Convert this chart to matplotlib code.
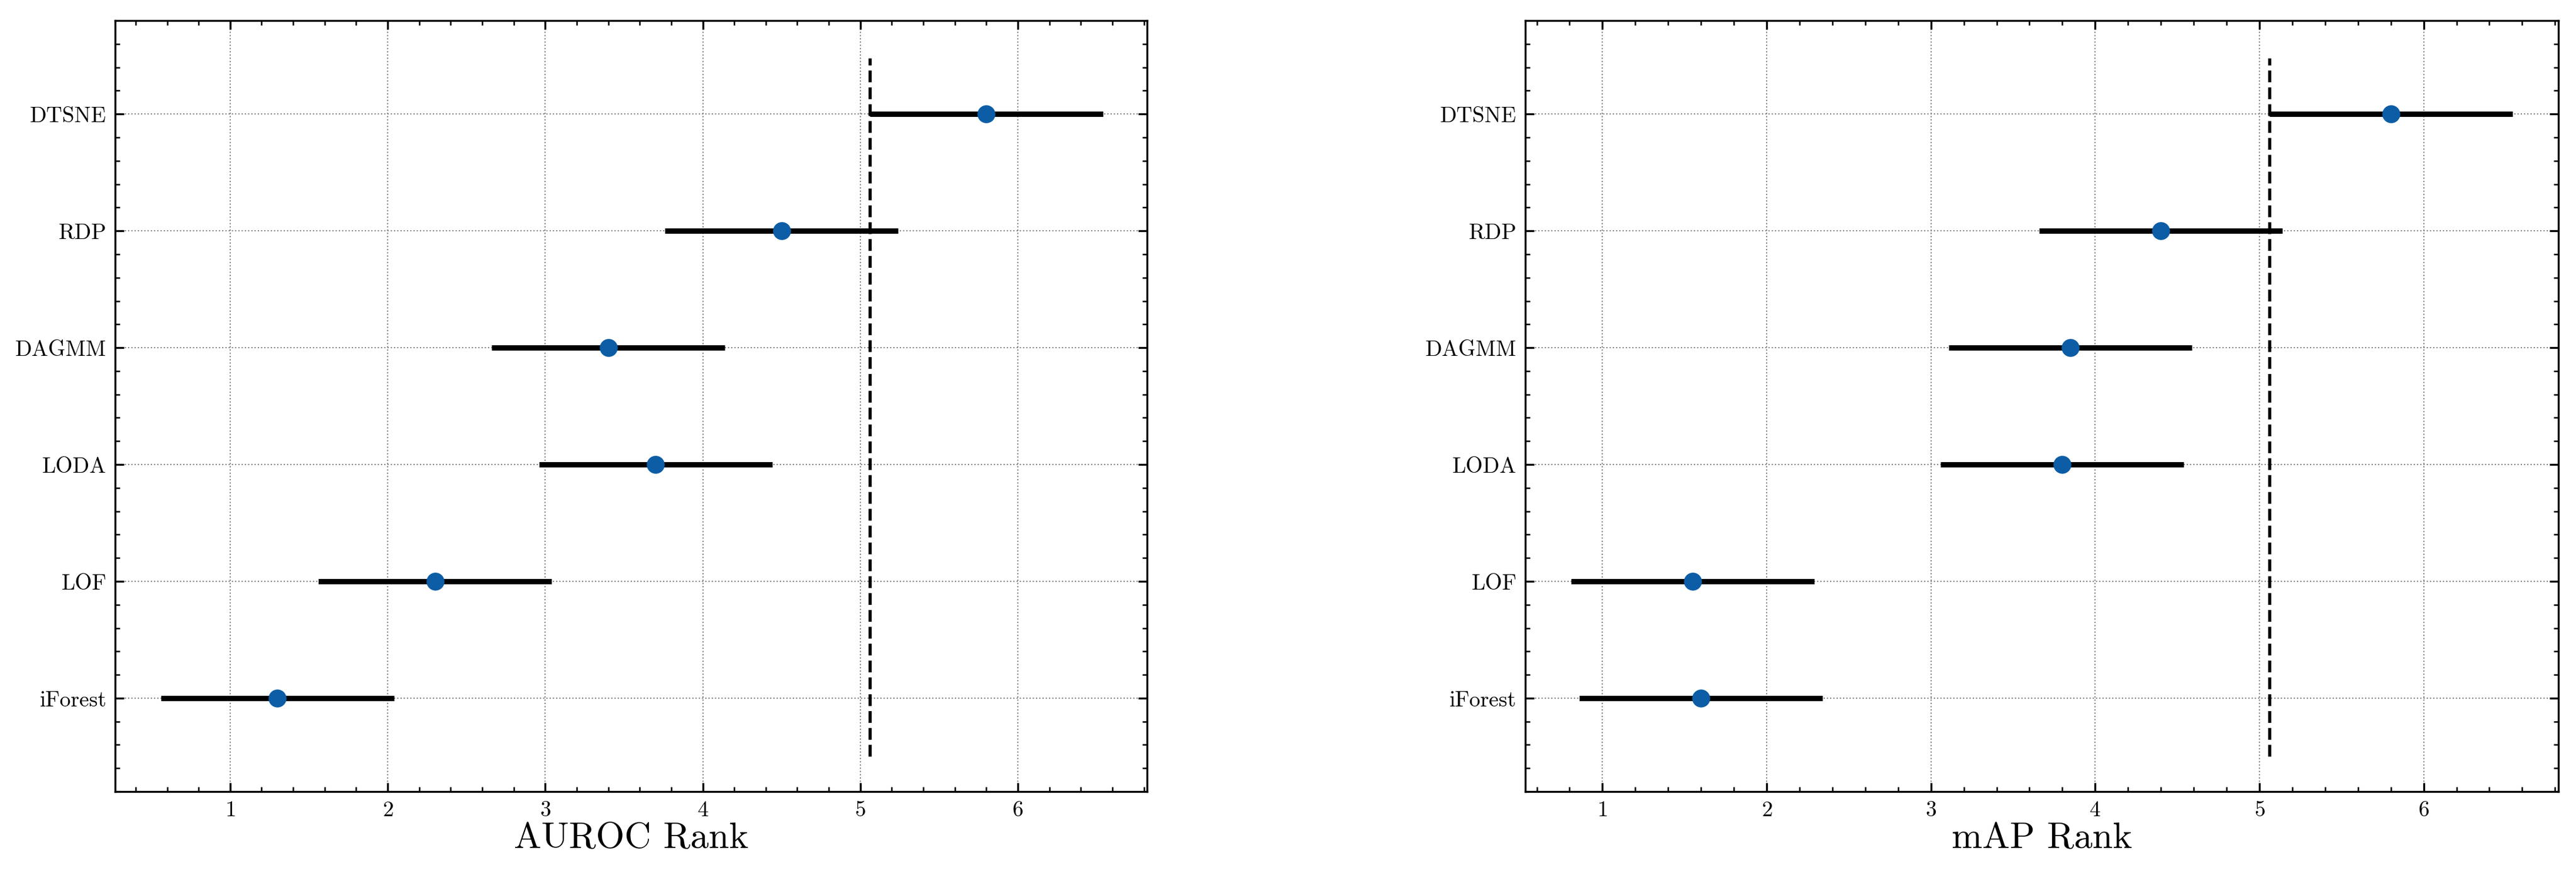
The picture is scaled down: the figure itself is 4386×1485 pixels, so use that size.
import matplotlib
matplotlib.use("Agg")
import matplotlib.pyplot as plt
from matplotlib.ticker import MultipleLocator

plt.rcParams['font.family'] = ['cmr10', 'DejaVu Serif']
plt.rcParams['axes.formatter.use_mathtext'] = True
plt.rcParams['mathtext.fontset'] = 'cm'

methods = ["iForest", "LOF", "LODA", "DAGMM", "RDP", "DTSNE"]
auroc_rank = [1.3, 2.3, 3.7, 3.4, 4.5, 5.8]
map_rank = [1.6, 1.55, 3.8, 3.85, 4.4, 5.8]
half_cd = 0.74

panels = [(auroc_rank, "AUROC Rank", (0.27, 6.82)),
          (map_rank, "mAP Rank", (0.53, 6.82))]

fig = plt.figure(figsize=(14.623, 4.953), dpi=300)
boxes = [[196/4387, 1-1349/1486, (1953-196)/4387, (1349-36)/1486],
         [2597/4387, 1-1349/1486, (4356-2597)/4387, (1349-36)/1486]]

for box, (ranks, label, xlim) in zip(boxes, panels):
    ax = fig.add_axes(box)
    y = list(range(len(methods)))
    ax.hlines(y, [r - half_cd for r in ranks], [r + half_cd for r in ranks],
              color='black', lw=2.2, zorder=3)
    ax.scatter(ranks, y, s=40, color='#0C5DA5', zorder=4)
    best = max(ranks) - half_cd
    ax.vlines(best, -0.5, 5.48, color='black', lw=1.3, linestyles='--', zorder=2)
    ax.set_yticks(y)
    ax.set_yticklabels(methods)
    ax.set_ylim(-0.8, 5.8)
    ax.set_xlim(*xlim)
    ax.xaxis.set_major_locator(MultipleLocator(1))
    ax.xaxis.set_minor_locator(MultipleLocator(0.2))
    ax.yaxis.set_minor_locator(MultipleLocator(0.2))
    ax.grid(True, which='major', ls=':', lw=0.5, color='gray')
    ax.tick_params(which='both', direction='in', top=True, right=True, labelsize=9)
    ax.tick_params(which='major', length=3.5)
    ax.tick_params(which='minor', length=2)
    ax.set_xlabel(label, fontsize=15, labelpad=1)

fig.savefig("out.png", dpi=300)
